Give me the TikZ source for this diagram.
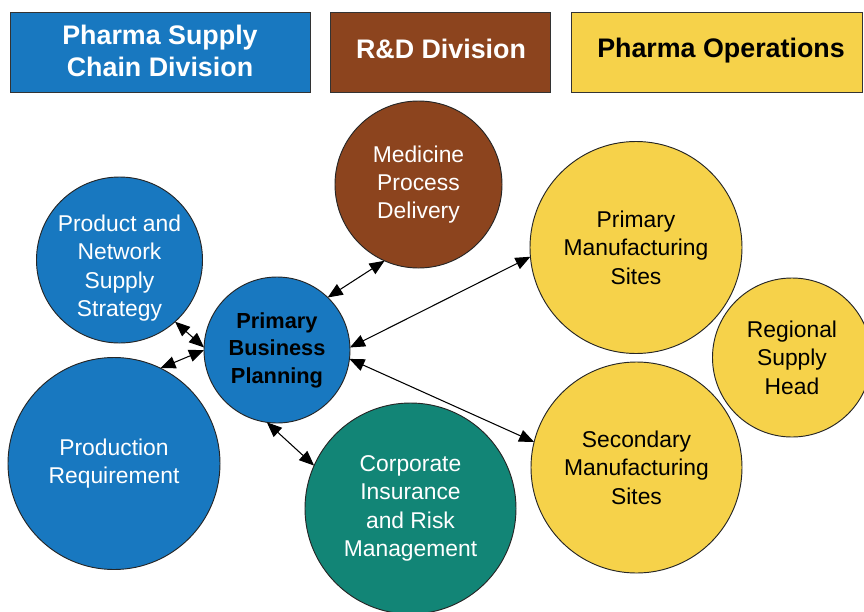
\documentclass[tikz,border=0pt]{standalone}
\usepackage{fontspec}
\setmainfont{Liberation Sans}
\usetikzlibrary{arrows.meta}

\definecolor{divblue}{RGB}{24,120,192}
\definecolor{divbrown}{RGB}{140,68,30}
\definecolor{divyellow}{RGB}{246,210,74}
\definecolor{divteal}{RGB}{18,133,118}

\begin{document}
\begin{tikzpicture}[x=0.03cm, y=-0.03cm,
  header/.style={draw=black!80, line width=0.8pt, inner sep=0pt, outer sep=0pt,
    minimum height=2.4cm},
  headertext/.style={align=center, inner sep=0pt,
    font=\bfseries\fontsize{22.9}{27.3}\selectfont},
  unit/.style={circle, draw=black!85, line width=0.8pt, inner sep=0pt, outer sep=0pt,
    align=center, font=\fontsize{19.5}{24.2}\selectfont},
  bluec/.style={unit, fill=divblue, text=white},
  brownc/.style={unit, fill=divbrown, text=white},
  tealc/.style={unit, fill=divteal, text=white},
  yellowc/.style={unit, fill=divyellow, text=black},
  link/.style={line width=0.9pt, black,
    {Triangle[length=0.45cm,width=0.37cm]}-{Triangle[length=0.45cm,width=0.37cm]}}
]
\useasboundingbox (0,0) rectangle (864,611);

% division headers
\node[header, fill=divblue, minimum width=9cm] (hsupply) at (160,52) {};
\node[headertext, text=white] (hsupplytext) at (160,51) {Pharma Supply\\Chain Division};
\node[header, fill=divbrown, minimum width=6.6cm] (hrd) at (440,52) {};
\node[headertext, text=white] (hrdtext) at (441,49) {R\&D Division};
\node[header, fill=divyellow, minimum width=8.73cm] (hops) at (716.5,52) {};
\node[headertext, text=black] (hopstext) at (721,51) {Pharma Operations};

% units
\node[bluec, minimum size=4.98cm] (pns) at (119.5,260) {};
\node[text=white, align=center, font=\fontsize{19.5}{24.2}\selectfont] (pnstext) at (119.5,268)
  {Product and\\Network\\Supply\\Strategy};
\node[bluec, minimum size=4.38cm, text=black,
  font=\bfseries\fontsize{18.6}{23.5}\selectfont] (pbp) at (277,350)
  {Primary\\Business\\Planning};
\node[bluec, minimum size=6.36cm] (prq) at (114,463.5)
  {Production\\Requirement};
\node[brownc, minimum size=5.01cm] (mpd) at (418.5,184.5)
  {Medicine\\Process\\Delivery};
\node[tealc, minimum size=6.33cm] (cir) at (410.5,508.5)
  {Corporate\\Insurance\\and Risk\\Management};
\node[yellowc, minimum size=6.36cm] (pms) at (636,247.5)
  {Primary\\Manufacturing\\Sites};
\node[yellowc, minimum size=6.33cm] (sms) at (636.5,467.5)
  {Secondary\\Manufacturing\\Sites};
\node[yellowc, minimum size=4.77cm] (rsh) at (792,357.5)
  {Regional\\Supply\\Head};

% two-way links to the planning hub
\draw[link] (pns.-48) -- (pbp.178);
\draw[link] (prq.64.5) -- (pbp.180);
\draw[link] (pbp.46.6) -- (mpd.246.5);
\draw[link] (pbp.2) -- (pms.185.7);
\draw[link] (pbp.-7.6) -- (sms.166.7);
\draw[link] (pbp.262) -- (cir.156);
\end{tikzpicture}
\end{document}
